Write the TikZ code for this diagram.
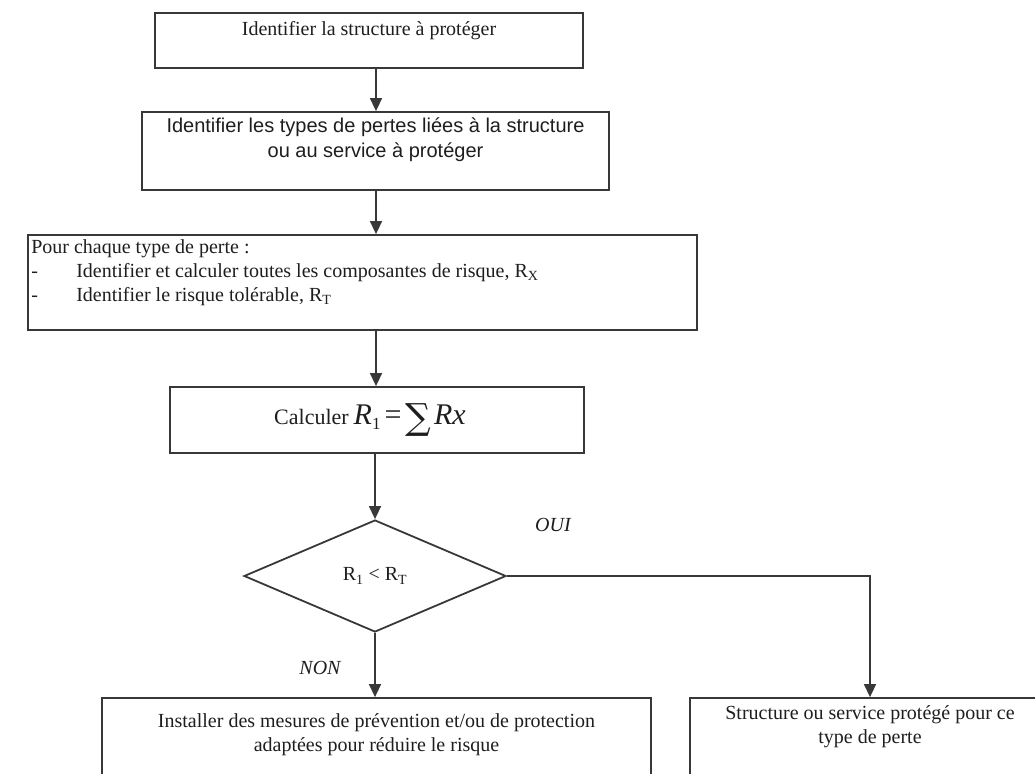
\documentclass[tikz,border=0pt]{standalone}
\usepackage{fontspec}
\setmainfont{Liberation Serif}
\setsansfont{Liberation Sans}
\newfontfamily\sumfont{DejaVu Serif}
\usetikzlibrary{positioning,shapes.geometric,arrows.meta}
\definecolor{linegray}{HTML}{383838}
\definecolor{inkgray}{HTML}{1E1E1E}

\begin{document}
\begin{tikzpicture}[x=1pt,y=-1pt,
  box/.style={draw=linegray,line width=1.8pt,inner sep=0pt},
  txt/.style={inner sep=0pt,align=center,text=inkgray,font=\fontsize{20}{24}\selectfont},
  arr/.style={draw=linegray,line width=1.5pt,-{Triangle[length=13pt,width=12pt]}},
  lab/.style={inner sep=0pt,text=inkgray,font=\fontsize{20}{24}\selectfont\itshape}]
\useasboundingbox (0,0) rectangle (1035,773);
\clip (0,0) rectangle (1035,773);
\coordinate (ax) at (376,0);

% boxes of the flow
\node[box,minimum width=428pt,minimum height=55pt] (b1) at (369,40.5) {};
\node[box,minimum width=467pt,minimum height=78pt] (b2) at (375.5,151) {};
\node[box,minimum width=669pt,minimum height=95pt] (b3) at (362.5,282.5) {};
\node[box,minimum width=414pt,minimum height=66pt] (b4) at (377,420) {};
\node[box,txt,diamond,aspect=2.34,minimum width=262pt,minimum height=112pt] (d) at (375,576)
  {R\textsubscript{1} < R\textsubscript{T}};
\node[box,minimum width=549pt,minimum height=122pt] (b6) at (376.5,759) {};
\node[box,minimum width=360pt,minimum height=122pt] (b7) at (870,759) {};

% texts
\node[txt] (t1) at ([yshift=-19pt]b1.north) {Identifier la structure à protéger};
\node[txt,font=\sffamily\fontsize{20}{25}\selectfont] (t2) at ([yshift=-28.5pt]b2.north)
  {Identifier les types de pertes liées à la structure\\ou au service à protéger};
\node[txt,align=left,anchor=north west] (t3) at ([xshift=4pt,yshift=-5pt]b3.north west)
  {Pour chaque type de perte :\\
   \makebox[45pt][l]{-}Identifier et calculer toutes les composantes de risque, R\textsubscript{X}\\
   \makebox[45pt][l]{-}Identifier le risque tolérable, R\textsubscript{T}};
\node[txt] (t4) at ([xshift=-7pt]b4.center)
  {{\fontsize{22}{24}\selectfont Calculer}\hspace{5pt}{\fontsize{30}{30}\selectfont\textit{R}\raisebox{-5pt}{\fontsize{17}{17}\selectfont 1}\hspace{4pt}=\hspace{4pt}\raisebox{-5pt}{\sumfont\fontsize{36}{36}\selectfont ∑}\hspace{3pt}\textit{Rx}}};
\node[txt] (t6) at ([yshift=-37.5pt]b6.north)
  {Installer des mesures de prévention et/ou de protection\\adaptées pour réduire le risque};
\node[txt] (t7) at ([yshift=-29.5pt]b7.north)
  {Structure ou service protégé pour ce\\type de perte};

% connectors
\draw[arr] (b1.south -| ax) -- (b2.north -| ax);
\draw[arr] (b2.south -| ax) -- (b3.north -| ax);
\draw[arr] (b3.south -| ax) -- (b4.north -| ax);
\draw[arr] (b4.south -| d.north) -- (d.north);
\draw[arr] (d.south) -- (b6.north -| d.south);
\draw[arr] (d.east) -| (b7.north);

\node[lab] (oui) at (553,525) {OUI};
\node[lab] (non) at (320,668) {NON};
\end{tikzpicture}
\end{document}
